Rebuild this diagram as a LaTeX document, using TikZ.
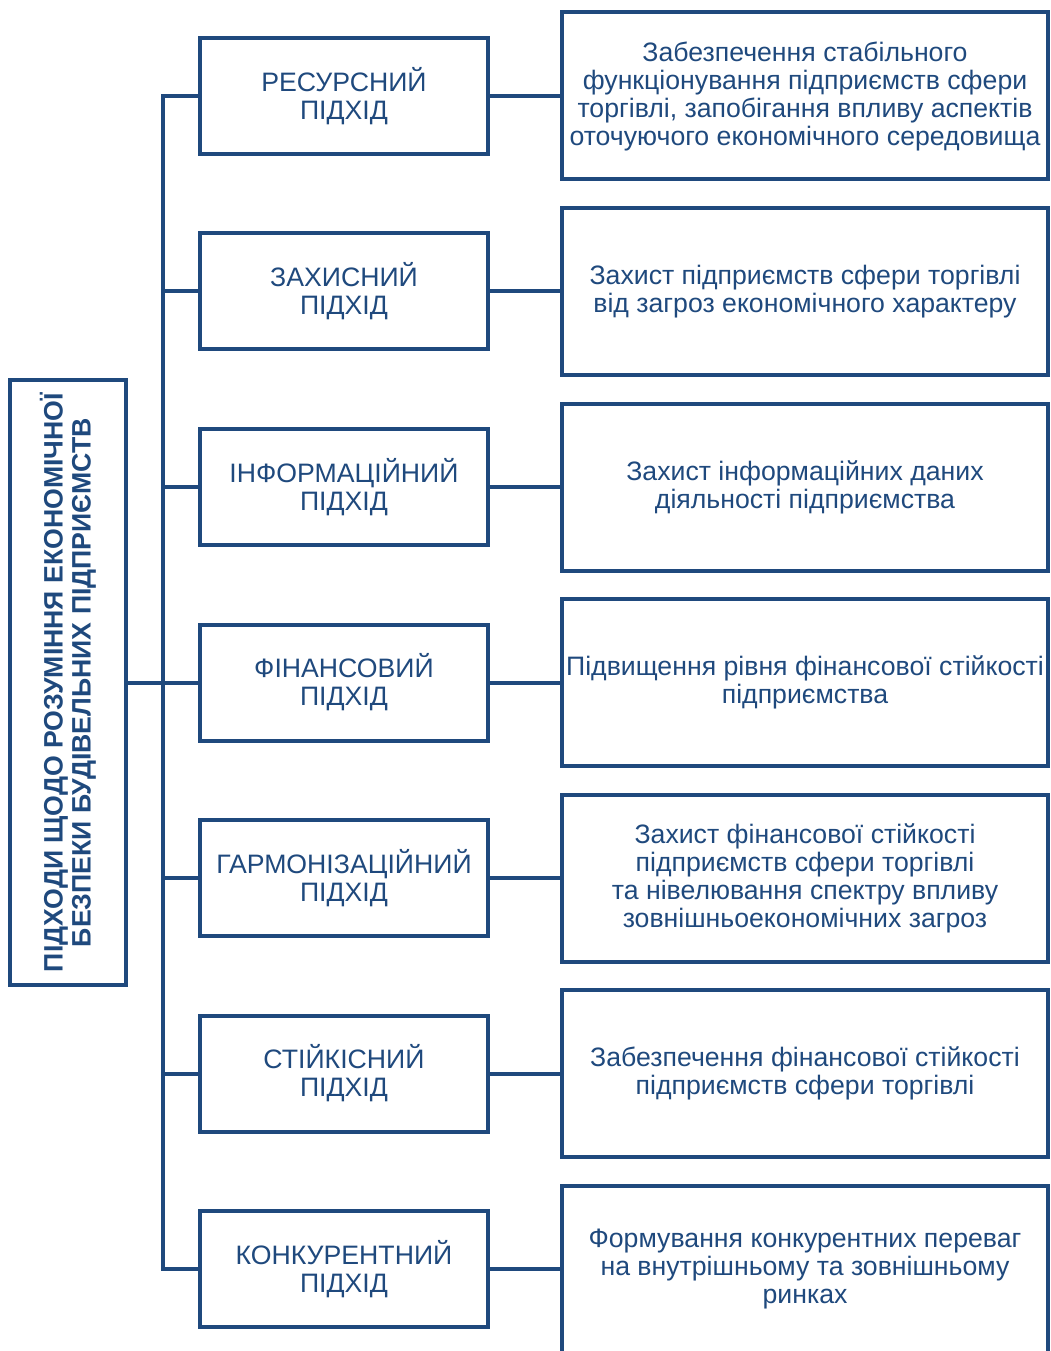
\documentclass[tikz,border=0pt]{standalone}
\usepackage{fontspec}
\setmainfont{Liberation Sans}
\definecolor{navy}{RGB}{31,73,125}

\begin{document}
\begin{tikzpicture}[x=0.75pt, y=-0.75pt,
    every node/.style={text=navy, font=\fontsize{20}{21}\selectfont, align=center, inner sep=0pt},
    rootbox/.style={draw=navy, line width=3pt, rotate=90, minimum width=453pt, minimum height=87pt,
      font=\bfseries\fontsize{20}{21}\selectfont},
    approach/.style={draw=navy, line width=3pt, minimum width=216pt, minimum height=87pt},
    aim/.style={draw=navy, line width=3pt, minimum width=364.5pt, minimum height=125.25pt},
    link/.style={draw=navy, line width=3pt}]
    \useasboundingbox (0,0) rectangle (1050,1351);
    % root
    \node [rootbox] (root) at (68,682.5) {ПІДХОДИ ЩОДО РОЗУМІННЯ ЕКОНОМІЧНОЇ\\БЕЗПЕКИ БУДІВЕЛЬНИХ ПІДПРИЄМСТВ};
    % A1
    \node [approach] (a1) at (344,96)     {РЕСУРСНИЙ\\ПІДХІД};
    \node [aim]      (g1) at (805,96)     {Забезпечення стабільного\\функціонування підприємств сфери\\торгівлі, запобігання впливу аспектів\\оточуючого економічного середовища};
    % A2
    \node [approach] (a2) at (344,291.5)  {ЗАХИСНИЙ\\ПІДХІД};
    \node [aim]      (g2) at (805,291.5)  {Захист підприємств сфери торгівлі\\від загроз економічного характеру};
    % A3
    \node [approach] (a3) at (344,487)    {ІНФОРМАЦІЙНИЙ\\ПІДХІД};
    \node [aim]      (g3) at (805,487)    {Захист інформаційних даних\\діяльності підприємства};
    % A4
    \node [approach] (a4) at (344,682.5)  {ФІНАНСОВИЙ\\ПІДХІД};
    \node [aim]      (g4) at (805,682.5)  {Підвищення рівня фінансової стійкості\\підприємства};
    % A5
    \node [approach] (a5) at (344,878)    {ГАРМОНІЗАЦІЙНИЙ\\ПІДХІД};
    \node [aim]      (g5) at (805,878)    {Захист фінансової стійкості\\підприємств сфери торгівлі\\та нівелювання спектру впливу\\зовнішньоекономічних загроз};
    % A6
    \node [approach] (a6) at (344,1073.5) {СТІЙКІСНИЙ\\ПІДХІД};
    \node [aim]      (g6) at (805,1073.5) {Забезпечення фінансової стійкості\\підприємств сфери торгівлі};
    % A7
    \node [approach] (a7) at (344,1269)   {КОНКУРЕНТНИЙ\\ПІДХІД};
    \node [aim]      (g7) at (805,1269)   {Формування конкурентних переваг\\на внутрішньому та зовнішньому\\ринках};
    % trunk
    \coordinate (t1) at (163,96);
    \coordinate (t2) at (163,291.5);
    \coordinate (t3) at (163,487);
    \coordinate (t4) at (163,682.5);
    \coordinate (t5) at (163,878);
    \coordinate (t6) at (163,1073.5);
    \coordinate (t7) at (163,1269);
    \draw [link] (a1) -- (t1) -- (t7) -- (a7);
    \draw [link] (root) -- (t4);
    \draw [link] (a1) -- (g1);
    \draw [link] (t2) -- (a2) -- (g2);
    \draw [link] (t3) -- (a3) -- (g3);
    \draw [link] (t4) -- (a4) -- (g4);
    \draw [link] (t5) -- (a5) -- (g5);
    \draw [link] (t6) -- (a6) -- (g6);
    \draw [link] (a7) -- (g7);
\end{tikzpicture}
\end{document}
